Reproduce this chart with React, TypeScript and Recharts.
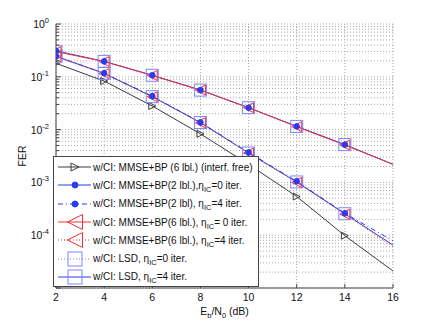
import { LineChart, Line, XAxis, YAxis, CartesianGrid, Legend, Label } from "recharts";

// Eb/N0 in dB and FER per curve
const EBN0 = [2, 4, 6, 8, 10, 12, 14, 16];
const FER_INTERF_FREE = [0.18, 0.083, 0.028, 0.0083, 0.0022, 0.00054, 0.000098, 0.000021];
const FER_BP2_IC0 = [0.31, 0.196, 0.107, 0.056, 0.026, 0.0115, 0.0052, 0.0022];
const FER_BP2_IC4 = [0.245, 0.117, 0.043, 0.0137, 0.0037, 0.00105, 0.00026, 0.000078];
const FER_BP6_IC0 = [0.3, 0.195, 0.106, 0.056, 0.026, 0.0114, 0.0051, 0.0022];
const FER_BP6_IC4 = [0.24, 0.115, 0.042, 0.0135, 0.0036, 0.001, 0.00025, 0.00006];
const FER_LSD_IC0 = [0.3, 0.196, 0.107, 0.056, 0.026, 0.0115, 0.0052, 0.0022];
const FER_LSD_IC4 = [0.245, 0.116, 0.042, 0.0136, 0.0036, 0.00102, 0.000255, 0.000065];

const X_TICKS = [2, 4, 6, 8, 10, 12, 14, 16];
const Y_DECADES = [-5, -4, -3, -2, -1, 0];
const Y_LABELED = [-4, -3, -2, -1, 0];

const Y_TICKS: number[] = [];
Y_DECADES.forEach((d) => {
  if (d === 0) {
    Y_TICKS.push(1);
    return;
  }
  for (let m = 1; m <= 9; m++) Y_TICKS.push(m * Math.pow(10, d));
});

const rows = EBN0.map((x, i) => ({
  x,
  free: FER_INTERF_FREE[i],
  bp2ic0: FER_BP2_IC0[i],
  bp2ic4: FER_BP2_IC4[i],
  bp6ic0: FER_BP6_IC0[i],
  bp6ic4: FER_BP6_IC4[i],
  lsd0: FER_LSD_IC0[i],
  lsd4: FER_LSD_IC4[i],
}));

const FONT = "'Liberation Sans', Arial, Helvetica, sans-serif";
const BLUE = "#2b3bf0";
const LIGHT_BLUE = "#7b86ff";
const RED = "#f0303a";
const BLACK = "#3a3a3a";
const AXIS = "#444";

type Kind = "triR" | "dot" | "triL" | "square";

function Marker({ kind, cx, cy, big }: { kind: Kind; cx: number; cy: number; big?: boolean }) {
  if (kind === "dot") {
    return <circle cx={cx} cy={cy} r={big ? 3 : 2.8} fill={BLUE} stroke={BLUE} />;
  }
  if (kind === "square") {
    const h = big ? 7 : 6;
    return <rect x={cx - h} y={cy - h} width={h * 2} height={h * 2} fill="none" stroke={LIGHT_BLUE} strokeWidth={1} />;
  }
  if (kind === "triL") {
    const w = big ? 7.5 : 5;
    const h = big ? 7.5 : 5;
    return (
      <polygon
        points={`${cx - w},${cy} ${cx + w},${cy - h} ${cx + w},${cy + h}`}
        fill="none"
        stroke={RED}
        strokeWidth={1}
      />
    );
  }
  const w = big ? 4 : 3.5;
  return (
    <polygon
      points={`${cx + w},${cy} ${cx - w},${cy - w} ${cx - w},${cy + w}`}
      fill="none"
      stroke={BLACK}
      strokeWidth={1}
    />
  );
}

const dotFor = (kind: Kind, name: string) => (props: any) => {
  const { cx, cy, index } = props;
  const k = `${name}-${index}`;
  if (cx == null || cy == null || EBN0[index] === 16) return <g key={k} />;
  return (
    <g key={k}>
      <Marker kind={kind} cx={cx} cy={cy} />
    </g>
  );
};

const LEGEND = [
  { label: ["w/CI: MMSE+BP (6 lbl.) (interf. free)"], color: BLACK, dash: undefined, kind: "triR" as Kind },
  { label: ["w/CI: MMSE+BP(2 lbl.),", "=0 iter."], color: BLUE, dash: undefined, kind: "dot" as Kind },
  { label: ["w/CI: MMSE+BP(2 lbl), ", "=4 iter."], color: BLUE, dash: "5 3 1 3", kind: "dot" as Kind },
  { label: ["w/CI: MMSE+BP(6 lbl.), ", "= 0 iter."], color: RED, dash: undefined, kind: "triL" as Kind },
  { label: ["w/CI: MMSE+BP(6 lbl.), ", "=4 iter."], color: RED, dash: "1 2", kind: "triL" as Kind },
  { label: ["w/CI: LSD, ", "=0 iter."], color: LIGHT_BLUE, dash: "1 2", kind: "square" as Kind },
  { label: ["w/CI: LSD, ", "=4 iter."], color: BLUE, dash: undefined, kind: "square" as Kind },
];

function LegendBox() {
  return (
    <div
      style={{
        width: 206,
        height: 131,
        boxSizing: "border-box",
        background: "#fff",
        border: `1px solid ${AXIS}`,
        fontFamily: FONT,
        fontSize: 10,
        color: "#111",
        paddingTop: 1,
        overflow: "hidden",
      }}
    >
      {LEGEND.map((e, i) => (
        <div key={i} style={{ display: "flex", alignItems: "center", height: 18.3, whiteSpace: "nowrap" }}>
          <svg width={39} height={18} style={{ flex: "none" }}>
            <line x1={4} y1={9} x2={37} y2={9} stroke={e.color} strokeWidth={1} strokeDasharray={e.dash} />
            <Marker kind={e.kind} cx={21} cy={9} big />
          </svg>
          <span>
            {e.label[0]}
            {e.label.length > 1 && (
              <>
                η<sub style={{ fontSize: 7.5, lineHeight: 0, verticalAlign: -3 }}>IC</sub>
                {e.label[1]}
              </>
            )}
          </span>
        </div>
      ))}
    </div>
  );
}

function mantissa(v: number) {
  const e = Math.floor(Math.log10(v) + 1e-9);
  return { e, m: Math.round(v / Math.pow(10, e)) };
}

function LeftTick(props: any) {
  const { x, y, payload } = props;
  const { e, m } = mantissa(payload.value);
  const ax = x + 7;
  const major = m === 1;
  return (
    <g>
      <line x1={ax} y1={y} x2={ax + (major ? 5 : 3)} y2={y} stroke={AXIS} />
      {major && Y_LABELED.includes(e) && (
        <text x={x} y={y + 4} textAnchor="end" fontFamily={FONT} fontSize={10.5} fill="#111">
          10<tspan dy={-5} fontSize={7.5}>{e === 0 ? "0" : `-${-e}`}</tspan>
        </text>
      )}
    </g>
  );
}

function RightTick(props: any) {
  const { x, y, payload } = props;
  const { m } = mantissa(payload.value);
  return <line x1={x} y1={y} x2={x - (m === 1 ? 5 : 3)} y2={y} stroke={AXIS} />;
}

function BottomTick(props: any) {
  const { x, y, payload } = props;
  const ay = y - 5;
  return (
    <g>
      <line x1={x} y1={ay} x2={x} y2={ay - 4} stroke={AXIS} />
      <text x={x} y={y} dy="0.8em" textAnchor="middle" fontFamily={FONT} fontSize={10.5} fill="#111">
        {payload.value}
      </text>
    </g>
  );
}

function TopTick(props: any) {
  const { x, y } = props;
  return <line x1={x} y1={y} x2={x} y2={y + 4} stroke={AXIS} />;
}

function XTitle(props: any) {
  const vb = props.viewBox;
  const cx = vb.x + vb.width / 2;
  return (
    <text x={cx} y={vb.y + 27} textAnchor="middle" fontFamily={FONT} fontSize={10.5} fill="#111">
      E<tspan dy={3} fontSize={7.5}>b</tspan>
      <tspan dy={-3}>/N</tspan>
      <tspan dy={3} fontSize={7.5}>0</tspan>
      <tspan dy={-3}> (dB)</tspan>
    </text>
  );
}

function YTitle() {
  return (
    <text
      x={22}
      y={156}
      transform="rotate(-90, 22, 156)"
      textAnchor="middle"
      dominantBaseline="central"
      fontFamily={FONT}
      fontSize={10.5}
      fill="#111"
    >
      FER
    </text>
  );
}

export default function App() {
  return (
    <div style={{ position: "absolute", left: 0, top: 0, width: 432, height: 325, background: "#fff" }}>
      <LineChart width={432} height={325} data={rows} margin={{ top: 24, right: 39, left: 0, bottom: 0 }}>
        <CartesianGrid xAxisId="bottom" yAxisId="left" stroke="#a8a8a8" strokeDasharray="1 2" />
        <XAxis
          xAxisId="bottom"
          dataKey="x"
          type="number"
          domain={[2, 16]}
          ticks={X_TICKS}
          height={37}
          tickSize={0}
          tickMargin={5}
          tick={BottomTick}
          axisLine={{ stroke: AXIS }}
          allowDataOverflow
        >
          <Label content={XTitle} />
        </XAxis>
        <XAxis
          xAxisId="top"
          orientation="top"
          dataKey="x"
          type="number"
          domain={[2, 16]}
          ticks={X_TICKS}
          height={0}
          tickSize={0}
          tickMargin={0}
          tick={TopTick}
          axisLine={{ stroke: AXIS }}
          allowDataOverflow
        />
        <YAxis
          yAxisId="left"
          scale="log"
          type="number"
          domain={[1e-5, 1]}
          ticks={Y_TICKS}
          width={56}
          tickSize={0}
          tickMargin={7}
          tick={LeftTick}
          axisLine={{ stroke: AXIS }}
          allowDataOverflow
          interval={0}
        >
          <Label content={YTitle} />
        </YAxis>
        <YAxis
          yAxisId="right"
          orientation="right"
          scale="log"
          type="number"
          domain={[1e-5, 1]}
          ticks={Y_TICKS}
          width={0}
          tickSize={0}
          tickMargin={0}
          tick={RightTick}
          axisLine={{ stroke: AXIS }}
          allowDataOverflow
          interval={0}
        />
        <Line xAxisId="bottom" yAxisId="left" dataKey="free" stroke={BLACK} strokeWidth={1} dot={dotFor("triR", "free")} isAnimationActive={false} />
        <Line xAxisId="bottom" yAxisId="left" dataKey="lsd0" stroke={LIGHT_BLUE} strokeDasharray="1 2" strokeWidth={1} dot={dotFor("square", "lsd0")} isAnimationActive={false} />
        <Line xAxisId="bottom" yAxisId="left" dataKey="lsd4" stroke={BLUE} strokeWidth={1} dot={dotFor("square", "lsd4")} isAnimationActive={false} />
        <Line xAxisId="bottom" yAxisId="left" dataKey="bp2ic0" stroke={BLUE} strokeWidth={1} dot={false} isAnimationActive={false} />
        <Line xAxisId="bottom" yAxisId="left" dataKey="bp2ic4" stroke={BLUE} strokeDasharray="5 3 1 3" strokeWidth={1} dot={false} isAnimationActive={false} />
        <Line xAxisId="bottom" yAxisId="left" dataKey="bp6ic0" stroke={RED} strokeWidth={1} dot={dotFor("triL", "bp6ic0")} isAnimationActive={false} />
        <Line xAxisId="bottom" yAxisId="left" dataKey="bp6ic4" stroke={RED} strokeDasharray="1 2" strokeWidth={1} dot={dotFor("triL", "bp6ic4")} isAnimationActive={false} />
        <Line xAxisId="bottom" yAxisId="left" dataKey="bp2ic0" stroke="none" dot={dotFor("dot", "bp2ic0d")} isAnimationActive={false} legendType="none" />
        <Line xAxisId="bottom" yAxisId="left" dataKey="bp2ic4" stroke="none" dot={dotFor("dot", "bp2ic4d")} isAnimationActive={false} legendType="none" />
        <Legend
          layout="vertical"
          align="center"
          verticalAlign="middle"
          content={LegendBox}
          wrapperStyle={{ left: 53, top: 156, width: 206, height: 131 }}
        />
      </LineChart>
    </div>
  );
}
